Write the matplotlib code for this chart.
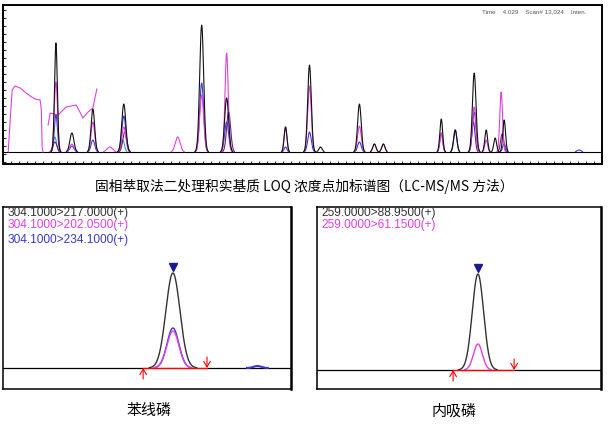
import numpy as np
import matplotlib
matplotlib.use('Agg')
import matplotlib.pyplot as plt

W, H = 608, 428

# ---- top chromatogram: peak tables (retention time min, height, sigma min)
black_peaks = [(1.325, 109, 0.035), (1.725, 19, 0.05), (2.25, 43, 0.045), (3.025, 48, 0.05),
               (4.975, 127, 0.05), (5.6, 54, 0.05), (7.075, 25, 0.035), (7.675, 87, 0.045),
               (7.95, 5, 0.04), (8.925, 48, 0.045), (9.3, 8, 0.04), (9.525, 8, 0.04),
               (10.975, 33, 0.035), (11.325, 22, 0.04), (11.8, 79, 0.045), (12.1, 22, 0.035),
               (12.325, 14, 0.035), (12.55, 32, 0.035)]
magenta_peaks = [(1.325, 70, 0.04), (1.725, 8, 0.05), (2.25, 30, 0.045), (2.675, 5, 0.07),
                 (3.025, 25, 0.05), (4.375, 15, 0.06), (4.975, 57, 0.05), (5.6, 99, 0.04),
                 (7.075, 25, 0.035), (7.675, 66, 0.045), (8.925, 26, 0.045), (9.3, 8, 0.04),
                 (9.525, 8, 0.04), (10.975, 19, 0.035), (11.8, 45, 0.045), (12.1, 12, 0.035),
                 (12.475, 60, 0.035)]
blue_peaks = [(1.325, 37, 0.04), (1.725, 6, 0.05), (2.25, 12, 0.045), (3.025, 36, 0.05),
              (4.975, 69, 0.05), (5.6, 30, 0.05), (7.075, 5, 0.035), (7.675, 20, 0.045),
              (8.925, 10, 0.045), (10.975, 19, 0.035), (11.325, 22, 0.04), (11.8, 40, 0.045),
              (12.55, 8, 0.04), (14.425, 2, 0.05)]
purple_peaks = [(1.3, 10, 0.05), (3.05, 20, 0.05), (5.65, 40, 0.05), (11.78, 30, 0.04),
                (12.5, 18, 0.04)]
cyan_peaks = [(1.3, 15, 0.04), (3.0, 12, 0.04)]
# magenta solvent-front drift (read point by point)
drift1_rt = [0.13, 0.18, 0.23, 0.3, 0.43, 0.55, 0.68, 0.8, 0.93, 0.96, 0.98, 1.0]
drift1_y = [0, 32, 62, 66, 64, 60, 56, 53, 52, 42, 5, 0]
drift2_rt = [1.13, 1.18, 1.38, 1.58, 1.83, 1.9, 2.0, 2.13, 2.25, 2.35]
drift2_y = [27, 39, 37, 45, 47, 42, 34, 40, 44, 63]

# ---- bottom panels
left_labels = ['304.1000>217.0000(+)', '304.1000>202.0500(+)', '304.1000>234.1000(+)']
left_colors = ['#333333', '#e040e0', '#3a3ad0']
left_peaks = [(6.154, 9500, 0.0146), (6.154, 3700, 0.0125), (6.154, 4000, 0.0125)]
left_bump = (6.330, 200, 0.008)
left_int = (6.092, 6.225)
right_labels = ['259.0000>88.9500(+)', '259.0000>61.1500(+)']
right_colors = ['#333333', '#e040e0']
right_peaks = [(4.040, 9600, 0.012), (4.040, 2600, 0.0095)]
right_int = (3.9875, 4.1165)

caption = '固相萃取法二处理积实基质 LOQ 浓度点加标谱图（LC-MS/MS 方法）'
names = ['苯线磷', '内吸磷']


def rect(x0, y0, x1, y1):
    return [x0 / W, 1 - y1 / H, (x1 - x0) / W, (y1 - y0) / H]


def trace(x, peaks):
    y = np.zeros_like(x)
    for c, h, s in peaks:
        y += h * np.exp(-0.5 * ((x - c) / s) ** 2)
    return y


def masked(y, thr):
    y = y.copy()
    y[y < thr] = np.nan
    return y


fig = plt.figure(figsize=(W / 100, H / 100), dpi=100)

# top chromatogram
ax = fig.add_axes(rect(3, 5, 602, 164))
x = np.linspace(0, 15, 3000)
ax.axhline(0, color='black', lw=0.8, zorder=1)
ax.plot(drift1_rt, drift1_y, color='#e040e0', lw=0.8)
ax.plot(drift2_rt, drift2_y, color='#e040e0', lw=0.8)
for peaks, col in [(cyan_peaks, '#20a0c0'), (purple_peaks, '#7a1a7a'), (blue_peaks, '#3a3ad0'),
                   (magenta_peaks, '#e040e0'), (black_peaks, '#111111')]:
    ax.plot(x, masked(trace(x, peaks), 0.4), color=col, lw=0.8)
ax.set_xlim(0, 15)
ax.set_ylim(-12, 147)
ax.set_xticks(np.arange(0, 15.01, 0.2))
ax.set_yticks(np.arange(-10, 147, 8))
ax.tick_params(direction='in', length=2, width=0.6, labelbottom=False, labelleft=False)
for sp in ax.spines.values():
    sp.set_linewidth(1.4)
fig.text(482 / W, 1 - 12 / H, 'Time    4.029    Scan# 13,024    Inten.', fontsize=4.5,
         color='#555555', va='center', family='Liberation Sans')

fig.text(304 / W, 1 - 186 / H, caption, fontsize=9.9, ha='center', va='center',
         family=['Noto Sans CJK SC', 'DejaVu Sans'])


def small_panel(r, xlim, ylim, labels, colors, peaks, integ, bump=None):
    a = fig.add_axes(r)
    xx = np.linspace(xlim[0], xlim[1], 2000)
    a.axhline(0, color='black', lw=0.9, zorder=1)
    for (c, h, s), col in zip(peaks[::-1], colors[::-1]):
        a.plot(xx, masked(trace(xx, [(c, h, s)]), 30), color=col, lw=1.0, zorder=2)
    if bump is not None:
        a.plot(xx, masked(trace(xx, [bump]), 5), color='#3a3ad0', lw=1.5, zorder=2)
    a.plot(integ, [0, 0], color='red', lw=0.9, zorder=3)
    top = peaks[0][1]
    a.plot(peaks[0][0], top + 650, marker='v', color='#1a1a8c', ms=6, zorder=4)
    a.annotate('', xy=(integ[0], 0), xytext=(integ[0], -1100),
               arrowprops=dict(arrowstyle='->,head_length=0.5,head_width=0.3', color='red',
                               lw=0.8, mutation_scale=8, shrinkA=0, shrinkB=0))
    a.annotate('', xy=(integ[1], 0), xytext=(integ[1], 1100),
               arrowprops=dict(arrowstyle='->,head_length=0.5,head_width=0.3', color='red',
                               lw=0.8, mutation_scale=8, shrinkA=0, shrinkB=0))
    a.set_xlim(xlim)
    a.set_ylim(ylim)
    a.set_xticks([])
    a.set_yticks([])
    for sp in a.spines.values():
        sp.set_linewidth(1.1)
    a.spines['right'].set_linewidth(1.8)
    for i, (lab, col) in enumerate(zip(labels, colors)):
        yy = [0.965, 0.9, 0.82][i]
        a.text(0.015, yy, lab, transform=a.transAxes, color=col, fontsize=8.6,
               va='center', ha='left', family='Liberation Sans')
    return a


small_panel(rect(3, 207, 291, 389), (5.8, 6.4), (-2100, 16100), left_labels, left_colors,
            left_peaks, left_int, left_bump)
small_panel(rect(317, 207, 601, 389), (3.7, 4.3), (-1900, 16300), right_labels, right_colors,
            right_peaks, right_int)

fig.text(149 / W, 1 - 411 / H, names[0], fontsize=10.8, ha='center', va='center',
         family=['Noto Sans CJK SC', 'DejaVu Sans'])
fig.text(454 / W, 1 - 411 / H, names[1], fontsize=10.8, ha='center', va='center',
         family=['Noto Sans CJK SC', 'DejaVu Sans'])

fig.savefig('out.png', dpi=100)
